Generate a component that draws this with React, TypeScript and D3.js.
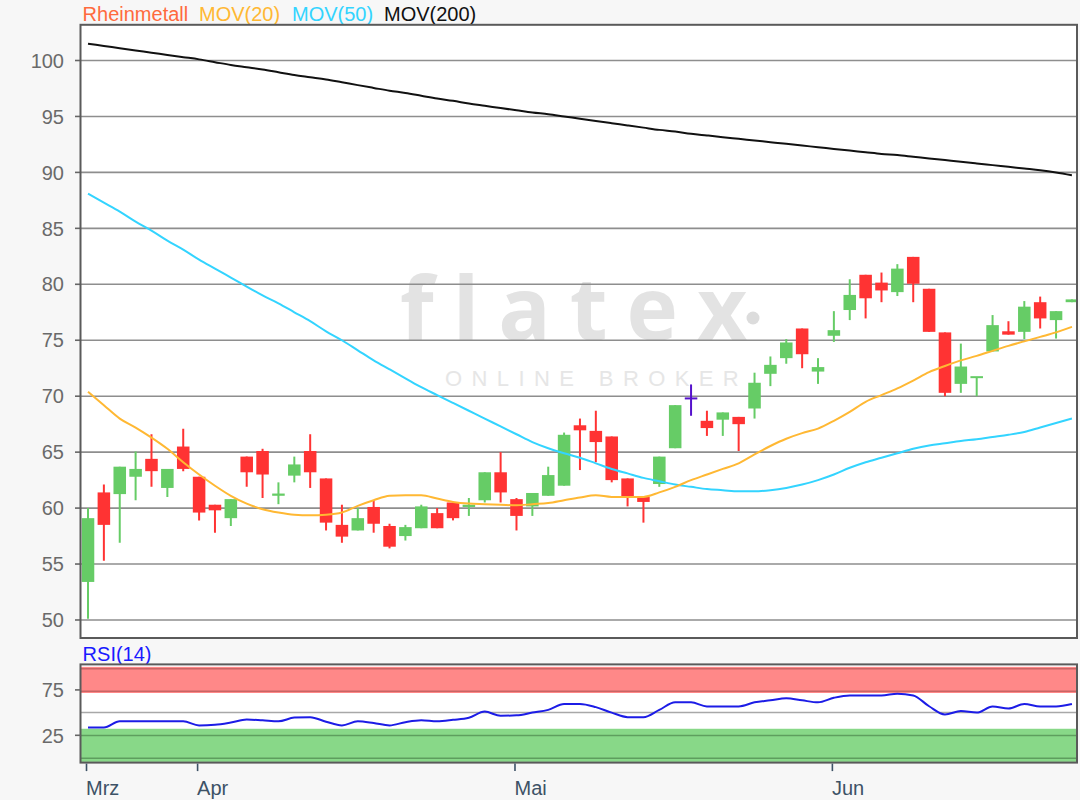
import React from 'react';
import * as d3 from 'd3';

// ---- data (one entry per trading day) ----
const OPEN = [53.4, 61.4, 61.25, 62.8, 64.4, 61.8, 65.5, 62.8, 60.3, 59.1, 64.6, 65.1, 61.1, 62.9, 65.1, 62.65, 58.5, 58.0, 60.1, 58.4, 57.5, 58.2, 59.55, 60.5, 60.1, 60.7, 63.2, 60.8, 60.15, 61.1, 62.0, 67.4, 66.9, 66.4, 62.65, 61.0, 62.15, 65.35, 69.8, 67.8, 67.9, 68.15, 68.9, 72.0, 73.4, 76.05, 72.2, 75.4, 77.7, 80.85, 80.15, 79.3, 82.45, 79.6, 75.7, 71.1, 71.68, 74.0, 75.8, 75.75, 78.4, 76.8, 78.4];
const HIGH = [60.0, 62.1, 63.7, 65.05, 66.6, 63.5, 67.1, 62.8, 60.3, 60.8, 64.6, 65.3, 62.3, 64.6, 66.6, 62.65, 60.3, 60.0, 60.7, 58.6, 58.5, 60.3, 60.0, 60.5, 60.9, 63.2, 65.0, 60.9, 61.35, 63.7, 66.75, 68.0, 68.7, 66.4, 62.65, 61.0, 64.6, 69.2, 71.05, 68.7, 68.55, 68.15, 72.1, 73.55, 75.1, 76.05, 73.4, 77.6, 80.45, 80.85, 81.05, 81.8, 82.45, 79.6, 75.7, 74.7, 71.72, 77.25, 76.7, 78.5, 78.9, 77.6, 78.65];
const LOW = [50.1, 55.3, 56.9, 60.7, 61.9, 61.0, 63.3, 58.9, 57.8, 58.4, 61.9, 60.9, 60.35, 62.3, 61.8, 58.0, 56.9, 58.0, 57.8, 56.4, 57.1, 58.2, 58.2, 58.9, 59.3, 60.5, 60.5, 58.0, 59.3, 61.1, 62.0, 63.4, 64.1, 62.3, 60.15, 58.7, 61.9, 65.35, 68.25, 66.45, 66.45, 65.1, 68.0, 70.9, 72.9, 72.5, 71.1, 74.85, 76.8, 76.95, 78.4, 78.95, 78.4, 75.75, 70.0, 70.3, 70.0, 74.0, 75.5, 75.1, 76.05, 75.15, 78.4];
const CLOSE = [59.1, 58.5, 63.7, 63.5, 63.3, 63.5, 63.5, 59.6, 59.8, 60.8, 63.2, 63.0, 61.3, 63.9, 63.2, 58.7, 57.45, 59.1, 58.6, 56.55, 58.3, 60.15, 58.2, 59.1, 60.3, 63.2, 61.4, 59.3, 61.35, 62.95, 66.55, 66.95, 65.9, 62.5, 61.05, 60.55, 64.6, 69.2, 69.8, 67.15, 68.55, 67.5, 71.2, 72.8, 74.8, 73.75, 72.6, 75.9, 79.05, 78.75, 79.45, 81.4, 80.05, 75.75, 70.3, 72.65, 71.72, 76.35, 75.5, 78.0, 76.95, 77.6, 78.65];

const MOV20 = [70.4, 69.2, 68.0, 67.2, 66.3, 65.3, 64.1, 63.0, 62.0, 61.1, 60.4, 59.9, 59.6, 59.4, 59.35, 59.4, 59.6, 60.2, 60.7, 61.1, 61.15, 61.15, 60.85, 60.55, 60.4, 60.35, 60.3, 60.25, 60.35, 60.45, 60.7, 60.95, 61.15, 61.0, 61.0, 61.0, 61.4, 61.9, 62.5, 63.0, 63.5, 64.0, 64.8, 65.55, 66.2, 66.7, 67.1, 67.8, 68.6, 69.5, 70.1, 70.7, 71.4, 72.15, 72.7, 73.2, 73.6, 74.05, 74.5, 74.9, 75.3, 75.7, 76.2];
const MOV50 = [88.1, 87.3, 86.5, 85.6, 84.8, 83.9, 83.1, 82.2, 81.4, 80.6, 79.8, 79.0, 78.3, 77.5, 76.7, 75.8, 75.0, 74.1, 73.2, 72.4, 71.6, 70.8, 70.1, 69.4, 68.7, 68.0, 67.3, 66.6, 65.9, 65.35, 64.9, 64.5, 64.0, 63.5, 63.1, 62.7, 62.4, 62.1, 61.9, 61.7, 61.6, 61.5, 61.5, 61.6, 61.8, 62.1, 62.5, 63.0, 63.6, 64.1, 64.5, 64.9, 65.3, 65.6, 65.8, 66.0, 66.15, 66.35, 66.55, 66.8, 67.2, 67.6, 68.0];
const MOV200 = [101.5, 101.3, 101.1, 100.9, 100.7, 100.5, 100.3, 100.1, 99.85, 99.6, 99.4, 99.2, 98.95, 98.7, 98.5, 98.3, 98.05, 97.8, 97.55, 97.3, 97.1, 96.85, 96.6, 96.4, 96.15, 95.95, 95.75, 95.55, 95.35, 95.2, 95.0, 94.8, 94.6, 94.4, 94.2, 94.0, 93.8, 93.65, 93.45, 93.3, 93.15, 93.0, 92.85, 92.7, 92.55, 92.4, 92.25, 92.1, 91.95, 91.8, 91.65, 91.55, 91.4, 91.25, 91.1, 90.95, 90.8, 90.65, 90.5, 90.35, 90.2, 90.0, 89.75];
const RSI = [33.6, 33.6, 40.4, 40.4, 40.4, 40.4, 40.4, 35.9, 36.5, 39, 42.4, 41.5, 40.4, 44.5, 45, 40, 35.9, 40.4, 38.5, 35.9, 39.5, 41.6, 40.4, 42, 44.3, 51.1, 46.5, 47, 50, 53, 59.5, 59.5, 56, 50, 45, 45, 53, 61.3, 61.3, 56.8, 56.8, 56.8, 61.3, 63.5, 65.9, 63.5, 61.3, 66.3, 68.9, 68.9, 68.9, 70.8, 68.9, 57, 48, 51.8, 50, 56.8, 54.5, 59.5, 56.8, 56.8, 59.5];

const MONTH_LABELS = ['Mrz', 'Apr', 'Mai', 'Jun'];
const MONTH_INDEX = [0, 7, 27, 47];
const PRICE_TICKS = [50, 55, 60, 65, 70, 75, 80, 85, 90, 95, 100];
const RSI_TICKS = [25, 75];
const RSI_MID = 50;
const RSI_HIGH_BAND = [71.6, 100.4];
const RSI_HIGH_LINES = [73.6, 98.2];
const RSI_LOW_BAND = [-4.3, 32.2];
const RSI_LOW_LINES = [-0.4, 24.8];

const LEGEND = [
  { text: 'Rheinmetall', color: '#ff6a3d' },
  { text: 'MOV(20)', color: '#ffb833' },
  { text: 'MOV(50)', color: '#33d4ff' },
  { text: 'MOV(200)', color: '#111111' },
];

const FONT = '"Liberation Sans", Arial, sans-serif';

export default function App() {
  const W = 1080, H = 800;
  const left = 80.5, right = 1077, top = 24.8, bottom = 638;
  const rTop = 664.4, rBottom = 762.6;

  const x = d3.scaleLinear().domain([-0.473, 62.32]).range([left, right]);
  const y = d3.scaleLinear().domain([48.39, 103.19]).range([bottom, top]);
  const yr = d3.scaleLinear().domain([-5.07, 103.1]).range([rBottom, rTop]);

  const step = x(1) - x(0);
  const bw = step * 0.79;
  const idx = d3.range(OPEN.length);

  const line = (arr: number[]) =>
    d3.line<number>().x((_, i) => x(i)).y((d) => y(d)).curve(d3.curveMonotoneX)(arr) || '';
  const rsiLine = d3.line<number>().x((_, i) => x(i)).y((d) => yr(d)).curve(d3.curveMonotoneX)(RSI) || '';

  const legendX = [82.6, 199, 292, 384];

  return (
    <div style={{ position: 'absolute', left: 0, top: 0 }}>
      <svg width={W} height={H} style={{ display: 'block', fontFamily: FONT }}>
        <defs>
          <clipPath id="mainClip">
            <rect x={left} y={top} width={right - left} height={bottom - top} />
          </clipPath>
          <clipPath id="rsiClip">
            <rect x={left} y={rTop} width={right - left} height={rBottom - rTop} />
          </clipPath>
        </defs>
        <rect x={0} y={0} width={W} height={H} fill="#f7f7f7" />

        {/* legend */}
        {LEGEND.map((l, i) => (
          <text key={l.text} x={legendX[i]} y={20.7} fontSize={20} fill={l.color}>
            {l.text}
          </text>
        ))}

        {/* main panel */}
        <rect x={left} y={top} width={right - left} height={bottom - top} fill="#ffffff" />

        {/* watermark */}
        <g fill="#e3e3e3">
          <text x={400} y={340} fontSize={87} letterSpacing={19} fontFamily={'"Open Sans", sans-serif'} fontWeight={700}>
            flatex
          </text>
          <circle cx={753} cy={318} r={6.5} fill="#dcdcdc" />
          <text x={445} y={386} fontSize={22} letterSpacing={9.4} fill="#e6e6e6">
            ONLINE BROKER
          </text>
        </g>

        {PRICE_TICKS.map((t) => (
          <g key={t}>
            <line x1={left} x2={right} y1={y(t)} y2={y(t)} stroke="#8e8e8e" strokeWidth={1.6} />
            <line x1={left - 5.5} x2={left} y1={y(t)} y2={y(t)} stroke="#666" strokeWidth={1.6} />
            <text x={64} y={y(t)} dy="0.36em" textAnchor="end" fontSize={20} fill="#6a6a6a">
              {t}
            </text>
          </g>
        ))}

        <g clipPath="url(#mainClip)">
          {idx.map((i) => {
            const o = OPEN[i], c = CLOSE[i];
            const color = c > o ? '#66cc66' : c < o ? '#ff3333' : '#5511cc';
            const yt = y(Math.max(o, c));
            const yb = y(Math.min(o, c));
            const h = Math.max(2, yb - yt);
            return (
              <g key={i}>
                <line x1={x(i)} x2={x(i)} y1={y(HIGH[i])} y2={y(LOW[i])} stroke={color} strokeWidth={2} />
                <rect x={x(i) - bw / 2} y={h === 2 ? (yt + yb) / 2 - 1 : yt} width={bw} height={h} fill={color} />
              </g>
            );
          })}
          <path d={line(MOV200)} fill="none" stroke="#111" strokeWidth={2} />
          <path d={line(MOV50)} fill="none" stroke="#33d4ff" strokeWidth={2} />
          <path d={line(MOV20)} fill="none" stroke="#ffb833" strokeWidth={2} />
        </g>
        <rect x={left} y={top} width={right - left} height={bottom - top} fill="none" stroke="#5a5a5a" strokeWidth={2} />

        {/* RSI panel */}
        <text x={82.6} y={661} fontSize={20} fill="#1a1aff">RSI(14)</text>
        <rect x={left} y={rTop} width={right - left} height={rBottom - rTop} fill="#ffffff" />
        <g clipPath="url(#rsiClip)">
          <rect x={left} y={yr(RSI_HIGH_BAND[1])} width={right - left} height={yr(RSI_HIGH_BAND[0]) - yr(RSI_HIGH_BAND[1])} fill="#ff8888" />
          {RSI_HIGH_LINES.map((v) => (
            <line key={'h' + v} x1={left} x2={right} y1={yr(v)} y2={yr(v)} stroke="#c96464" strokeWidth={1.5} />
          ))}
          <rect x={left} y={yr(RSI_LOW_BAND[1])} width={right - left} height={yr(RSI_LOW_BAND[0]) - yr(RSI_LOW_BAND[1])} fill="#88d888" />
          {RSI_LOW_LINES.map((v) => (
            <line key={'l' + v} x1={left} x2={right} y1={yr(v)} y2={yr(v)} stroke="#5e9e5e" strokeWidth={1.5} />
          ))}
          <line x1={left} x2={right} y1={yr(RSI_MID)} y2={yr(RSI_MID)} stroke="#a8a8a8" strokeWidth={1.5} />
          <path d={rsiLine} fill="none" stroke="#1c1ce6" strokeWidth={2} />
        </g>
        <rect x={left} y={rTop} width={right - left} height={rBottom - rTop} fill="none" stroke="#5a5a5a" strokeWidth={2} />
        {RSI_TICKS.map((t) => (
          <g key={t}>
            <line x1={left - 5.5} x2={left} y1={yr(t)} y2={yr(t)} stroke="#666" strokeWidth={1.6} />
            <text x={64} y={yr(t)} dy="0.36em" textAnchor="end" fontSize={20} fill="#6a6a6a">
              {t}
            </text>
          </g>
        ))}

        {/* x axis */}
        {MONTH_LABELS.map((m, i) => (
          <g key={m}>
            <line x1={x(MONTH_INDEX[i]) - 1.5} x2={x(MONTH_INDEX[i]) - 1.5} y1={rBottom + 1} y2={rBottom + 8.5} stroke="#3d5266" strokeWidth={1.6} />
            <text x={x(MONTH_INDEX[i]) - 2} y={795} fontSize={20} fill="#3d5266">
              {m}
            </text>
          </g>
        ))}
      </svg>
    </div>
  );
}
